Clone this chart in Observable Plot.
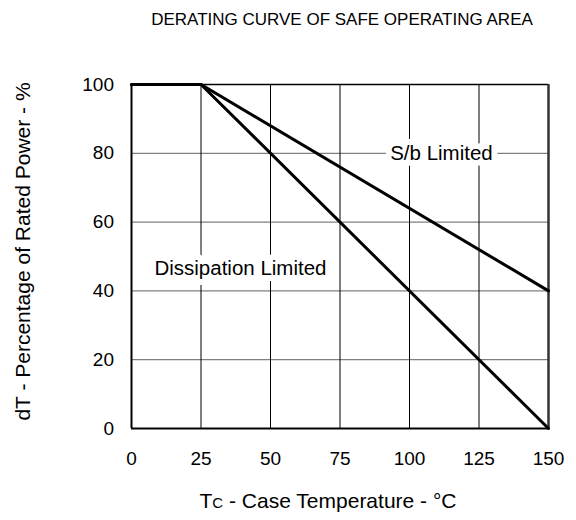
<!DOCTYPE html>
<html>
<head>
<meta charset="utf-8">
<script src="https://cdn.jsdelivr.net/npm/d3@7"></script>
<script src="https://cdn.jsdelivr.net/npm/@observablehq/plot@0.6"></script>
<style>
  html, body { margin: 0; padding: 0; background: #fff; }
  #chart svg { display: block; }
</style>
</head>
<body>
<div id="chart"></div>
<script>
const title = "DERATING CURVE OF SAFE OPERATING AREA";
const xTicks = [0, 25, 50, 75, 100, 125, 150];
const yTicks = [0, 20, 40, 60, 80, 100];
const tempPoints = [0, 25, 150];
const dissipationValues = [100, 100, 0];
const sbValues = [100, 100, 40];
const labelNames = ["S/b Limited", "Dissipation Limited"];
const labelX = [111.5, 39.2];
const labelY = [80, 46.5];

const dissipation = tempPoints.map((t, i) => ({t, v: dissipationValues[i]}));
const sb = tempPoints.map((t, i) => ({t, v: sbValues[i]}));
const labels = labelNames.map((name, i) => ({name, x: labelX[i], y: labelY[i]}));

const font = "Liberation Sans, Arial, sans-serif";

const plot = Plot.plot({
  width: 576,
  height: 520,
  marginLeft: 131,
  marginRight: 28,
  marginTop: 84,
  marginBottom: 92,
  style: {fontFamily: font, fontSize: "19px", color: "#000", background: "#fff"},
  x: {domain: [0, 150]},
  y: {domain: [0, 100]},
  marks: [
    Plot.ruleY(yTicks.filter(d => d > 0 && d < 100), {stroke: "#808080", strokeWidth: 1.2}),
    Plot.ruleX(xTicks.filter(d => d > 0 && d < 150), {stroke: "#000", strokeWidth: 1}),
    Plot.text(labels, {x: "x", y: "y", text: "name", fill: "#000", stroke: "#fff", strokeWidth: 12, fontSize: 20.5, textAnchor: "middle"}),
    Plot.ruleY([100], {stroke: "#000", strokeWidth: 1.5}),
    Plot.ruleX([150], {stroke: "#333", strokeWidth: 2.5}),
    Plot.ruleX([0], {stroke: "#000", strokeWidth: 2}),
    Plot.ruleY([0], {stroke: "#000", strokeWidth: 2}),
    Plot.line(dissipation, {x: "t", y: "v", stroke: "#000", strokeWidth: 3}),
    Plot.line(sb, {x: "t", y: "v", stroke: "#000", strokeWidth: 3}),
    Plot.axisX({ticks: xTicks, tickSize: 0, tickPadding: 23, label: null, fontSize: 19, tickFormat: d => String(d)}),
    Plot.axisY({ticks: yTicks, tickSize: 0, tickPadding: 17.5, label: null, fontSize: 19, tickFormat: d => String(d)})
  ]
});

document.getElementById("chart").appendChild(plot);

const svg = d3.select(plot);
svg.append("text")
  .attr("x", 342).attr("y", 25)
  .attr("text-anchor", "middle")
  .style("font-family", font).style("font-size", "17px").attr("fill", "#000")
  .text(title);

const xl = svg.append("text")
  .attr("x", 328).attr("y", 508)
  .attr("text-anchor", "middle")
  .style("font-family", font).style("font-size", "21px").attr("fill", "#000");
xl.append("tspan").text("T");
xl.append("tspan").style("font-size", "15px").text("C");
xl.append("tspan").text(" - Case Temperature - °C");

svg.append("text")
  .attr("transform", "translate(29.5,251.5) rotate(-90)")
  .attr("text-anchor", "middle")
  .style("font-family", font).style("font-size", "21px").attr("fill", "#000")
  .text("dT - Percentage of Rated Power - %");
</script>
</body>
</html>
